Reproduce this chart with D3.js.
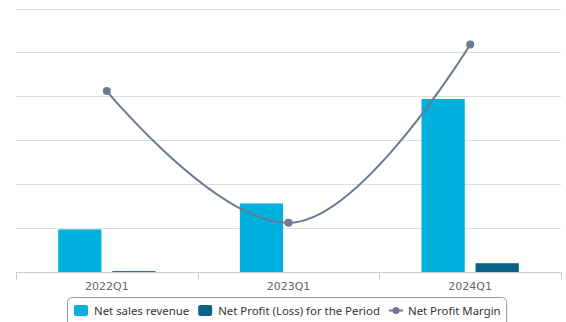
<!DOCTYPE html>
<html>
<head>
<meta charset="utf-8">
<script src="https://cdn.jsdelivr.net/npm/d3@7"></script>
<style>
  html, body { margin: 0; padding: 0; background: #fff; }
  svg { display: block; font-family: "DejaVu Sans", sans-serif; }
</style>
</head>
<body>
<svg id="chart" width="566" height="322"></svg>
<script>
// ---- data ----
const categories = ["2022Q1", "2023Q1", "2024Q1"];
const netSalesRevenue = [48.5, 78, 197];
const netProfit = [1, 0, 10];
const netProfitMargin = [20.6, 5.6, 25.9];
const seriesNames = ["Net sales revenue", "Net Profit (Loss) for the Period", "Net Profit Margin"];
const yTicks = [0, 50, 100, 150, 200, 250, 300];

// ---- layout ----
const svg = d3.select("#chart");
const plotLeft = 16, plotRight = 561, plotTop = 8.5, plotBottom = 272;
const colors = ["#00b1dd", "#0d6288", "#6a7a92"];

const x = d3.scaleBand().domain(categories).range([plotLeft, plotRight]);
const xInner = d3.scaleBand().domain([0, 1]).range([0, x.bandwidth()])
  .paddingInner(0.2).paddingOuter(0.78);
const y = d3.scaleLinear().domain([0, 300]).range([plotBottom, plotTop]);
const y2 = d3.scaleLinear().domain([0, 30]).range([plotBottom, plotTop]);

// gridlines
svg.append("g").selectAll("line").data(yTicks.slice(1)).join("line")
  .attr("x1", plotLeft).attr("x2", plotRight)
  .attr("y1", d => Math.round(y(d)) + 0.5).attr("y2", d => Math.round(y(d)) + 0.5)
  .attr("stroke", "#dedede").attr("stroke-width", 1);

// bars
const barSeries = [netSalesRevenue, netProfit];
barSeries.forEach((vals, si) => {
  svg.append("g").selectAll("rect").data(vals).join("rect")
    .attr("x", (d, i) => x(categories[i]) + xInner(si))
    .attr("width", xInner.bandwidth())
    .attr("y", d => y(Math.max(0, d)))
    .attr("height", d => Math.abs(y(d) - y(0)))
    .attr("fill", colors[si]);
});

// x axis
const xAxis = d3.axisBottom(x).tickSize(0);
const gx = svg.append("g").attr("transform", `translate(0,${plotBottom})`).call(xAxis);
gx.select(".domain").attr("stroke", "#cccccc").attr("d", `M${plotLeft},0.5H${plotRight}`);
gx.selectAll("text").attr("fill", "#666").attr("font-size", 11)
  .attr("font-family", "DejaVu Sans, sans-serif").attr("dy", "1.35em");
// band separator ticks
const sepPositions = categories.map(c => x(c)).concat([x(categories[categories.length - 1]) + x.bandwidth()]);
gx.append("g").selectAll("line").data(sepPositions).join("line")
  .attr("x1", d => Math.round(d) + 0.5).attr("x2", d => Math.round(d) + 0.5)
  .attr("y1", 0).attr("y2", 8)
  .attr("stroke", "#cccccc");

// spline (Highcharts-style smoothing)
const pts = netProfitMargin.map((v, i) => [x(categories[i]) + x.bandwidth() / 2, y2(v)]);
function splinePath(points) {
  const p = d3.path();
  const smoothing = 1.5, denom = smoothing + 1;
  const rc = [];
  const lc = [];
  points.forEach((pt, i) => {
    if (i > 0 && i < points.length - 1) {
      const [lx, ly] = points[i - 1], [nx, ny] = points[i + 1], [px, py] = pt;
      let lcx = (smoothing * px + lx) / denom, lcy = (smoothing * py + ly) / denom;
      let rcx = (smoothing * px + nx) / denom, rcy = (smoothing * py + ny) / denom;
      let corr = 0;
      if (rcx !== lcx) corr = ((rcy - lcy) * (rcx - px)) / (rcx - lcx) + py - rcy;
      lcy += corr; rcy += corr;
      if (lcy > ly && lcy > py) { lcy = Math.max(ly, py); rcy = 2 * py - lcy; }
      else if (lcy < ly && lcy < py) { lcy = Math.min(ly, py); rcy = 2 * py - lcy; }
      if (rcy > ny && rcy > py) { rcy = Math.max(ny, py); lcy = 2 * py - rcy; }
      else if (rcy < ny && rcy < py) { rcy = Math.min(ny, py); lcy = 2 * py - rcy; }
      lc[i] = [lcx, lcy]; rc[i] = [rcx, rcy];
    } else {
      lc[i] = pt; rc[i] = pt;
    }
  });
  p.moveTo(points[0][0], points[0][1]);
  for (let i = 1; i < points.length; i++) {
    p.bezierCurveTo(rc[i - 1][0], rc[i - 1][1], lc[i][0], lc[i][1], points[i][0], points[i][1]);
  }
  return p.toString();
}
svg.append("path").attr("d", splinePath(pts))
  .attr("fill", "none").attr("stroke", colors[2]).attr("stroke-width", 2);
svg.append("g").selectAll("circle").data(pts).join("circle")
  .attr("cx", d => d[0]).attr("cy", d => d[1]).attr("r", 4)
  .attr("fill", colors[2]);

// legend
const lg = svg.append("g");
const box = lg.append("rect").attr("x", 67.5).attr("y", 297.5).attr("height", 30)
  .attr("rx", 5).attr("fill", "#fff").attr("stroke", "#999").attr("stroke-width", 1);
const items = lg.append("g");
let cx = 74;
seriesNames.forEach((name, i) => {
  const g = items.append("g").attr("transform", `translate(${cx},0)`);
  let tx;
  if (i < 2) {
    g.append("rect").attr("x", 0).attr("y", 305).attr("width", 14).attr("height", 11)
      .attr("rx", 2).attr("fill", colors[i]);
    tx = 20;
  } else {
    g.append("line").attr("x1", 0).attr("x2", 14).attr("y1", 310.5).attr("y2", 310.5)
      .attr("stroke", colors[2]).attr("stroke-width", 2);
    g.append("circle").attr("cx", 7).attr("cy", 310.5).attr("r", 3.5).attr("fill", colors[2]);
    tx = 19;
  }
  const t = g.append("text").attr("x", tx).attr("y", 315)
    .attr("font-family", "'Noto Sans', sans-serif")
    .attr("font-size", 11.4).attr("fill", "#333").text(name);
  const w = t.node().getComputedTextLength();
  cx += tx + w + 9;
});
box.attr("width", cx - 9 + 6 - 67.5);
</script>
</body>
</html>
